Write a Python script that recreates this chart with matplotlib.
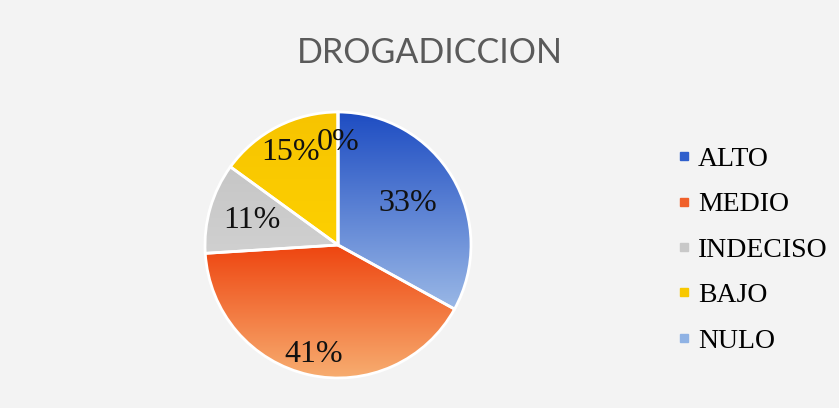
import numpy as np
import matplotlib
matplotlib.use("Agg")
import matplotlib.pyplot as plt
from matplotlib.colors import LinearSegmentedColormap
from matplotlib.lines import Line2D

categorias = ["ALTO", "MEDIO", "INDECISO", "BAJO", "NULO"]
valores = [33, 41, 11, 15, 0]
titulo = "DROGADICCION"

# degradado de cada porción (arriba -> abajo)
colores_top = ["#1d4cc2", "#ee4510", "#c6c6c6", "#f7c400", "#7fa6dc"]
colores_bot = ["#9ab8e6", "#f7ad70", "#d0d0d0", "#fdd000", "#a6c4ea"]
colores_ley = ["#2f5fcc", "#f0602a", "#c8c8c8", "#f8c800", "#8fb2e4"]
dist_pct = [0.61, 0.84, 0.67, 0.78, 0.77]

fondo = "#f3f3f3"
fig = plt.figure(figsize=(8.39, 4.08), dpi=100, facecolor=fondo)

W, H = 839, 408
cx, cy, r = 338, 245, 133
ax = fig.add_axes([(cx - r) / W, (H - cy - r) / H, 2 * r / W, 2 * r / H])
ax.set_facecolor(fondo)

wedges, textos, autotextos = ax.pie(
    valores, startangle=90, counterclock=False, autopct="%1.0f%%",
    pctdistance=0.7, wedgeprops=dict(edgecolor="white", linewidth=2),
    textprops=dict(family="Liberation Serif", fontsize=23, color="#111111"))

for i, w in enumerate(wedges):
    cmap = LinearSegmentedColormap.from_list("g%d" % i, [colores_bot[i], colores_top[i]])
    t1, t2 = np.radians(w.theta1), np.radians(w.theta2)
    ang = np.linspace(t1, t2, 100)
    ys = np.concatenate([[0], np.sin(ang)])
    y0, y1 = ys.min(), ys.max()
    if y1 - y0 < 1e-6:
        y0, y1 = -1, 1
    grad = np.linspace(0, 1, 256).reshape(-1, 1)
    im = ax.imshow(grad, cmap=cmap, origin="lower", extent=(-1, 1, y0, y1),
                   aspect="auto", zorder=w.get_zorder() - 0.1)
    im.set_clip_path(w)
    w.set_facecolor("none")

    mid = np.radians((w.theta1 + w.theta2) / 2)
    autotextos[i].set_position((dist_pct[i] * np.cos(mid), dist_pct[i] * np.sin(mid)))
    autotextos[i].set_zorder(5)

ax.set_xlim(-1.0, 1.0)
ax.set_ylim(-1.0, 1.0)
ax.set_aspect("auto")
ax.axis("off")

fig.text(430 / W, 1 - 53 / H, titulo, ha="center", va="center",
         fontsize=24.5, color="#5a5a5a", family="Lato")

handles = [Line2D([], [], marker="s", linestyle="none", markersize=6,
                  markerfacecolor=c, markeredgecolor=c) for c in colores_ley]
fig.legend(handles, categorias, loc="center left", bbox_to_anchor=(677 / W, 1 - 250 / H),
           frameon=False, prop=dict(family="Liberation Serif", size=20),
           handlelength=0.5, handletextpad=0.25, labelspacing=0.72,
           borderpad=0, borderaxespad=0)

fig.savefig("out.png", dpi=100, facecolor=fondo)
